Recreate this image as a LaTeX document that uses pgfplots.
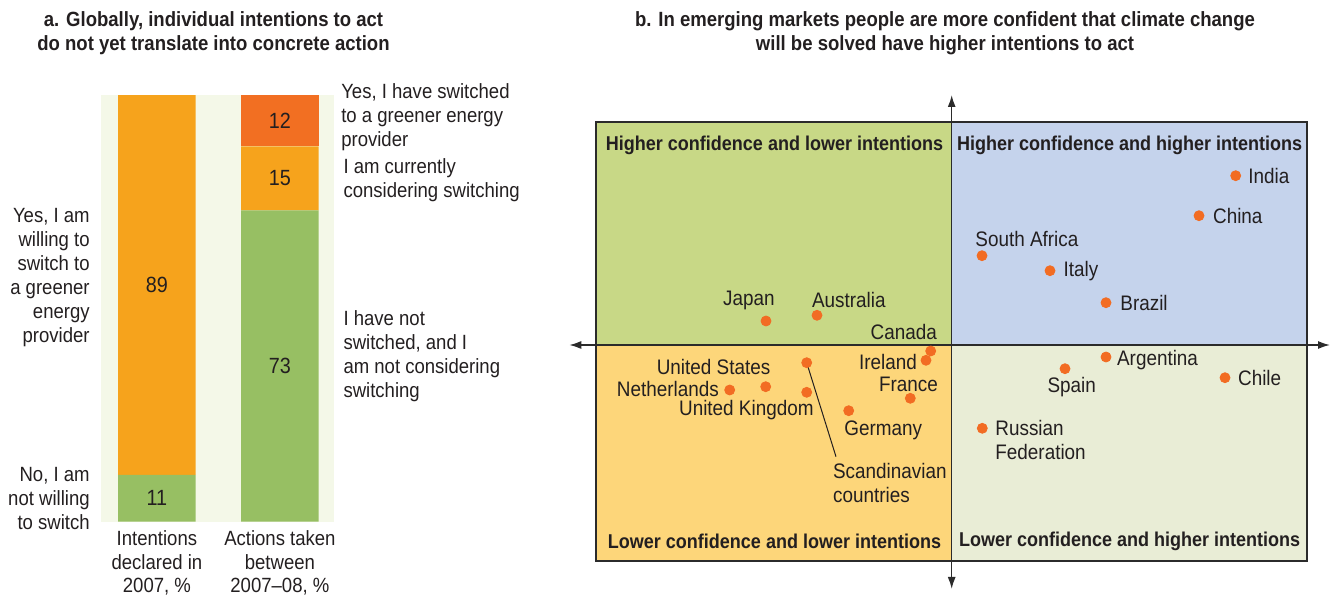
\documentclass[border=0pt]{standalone}
\usepackage{pgfplots}
\pgfplotsset{compat=1.18}
\usepackage{fontspec}
\setmainfont{Liberation Sans}[FakeStretch=0.9]
\usetikzlibrary{arrows.meta}

\definecolor{txt}{HTML}{231F20}
\definecolor{panelbg}{HTML}{F4F8E8}
\definecolor{barGreen}{HTML}{97BF63}
\definecolor{barOrange}{HTML}{F6A31C}
\definecolor{barDark}{HTML}{F26F22}
\definecolor{qTL}{HTML}{C8D886}
\definecolor{qTR}{HTML}{C5D3EC}
\definecolor{qBL}{HTML}{FDD67A}
\definecolor{qBR}{HTML}{E9EDD6}
\definecolor{dotc}{HTML}{F26C23}
\definecolor{frame}{HTML}{2B2B2B}

\newcommand{\lblfont}{\fontsize{10.3}{12}\selectfont}
\newcommand{\numfont}{\fontsize{11}{12}\selectfont}
\newcommand{\ctyfont}{\fontsize{10.5}{12}\selectfont}
\newcommand{\quadfont}{\fontsize{10}{12}\selectfont\bfseries}

\begin{document}
\begin{tikzpicture}[every node/.style={text=txt}, lab/.style={inner sep=0pt, text=txt}]
\path[use as bounding box] (0,0) rectangle (665pt,297.5pt);

% titles
\node[align=center, font=\fontsize{10.3}{12}\selectfont\bfseries] at (106.75pt,281pt)
  {a. Globally, individual intentions to act\\do not yet translate into concrete action};
\node[align=center, font=\fontsize{10.3}{12}\selectfont\bfseries] at (472.5pt,281pt)
  {b. In emerging markets people are more confident that climate change\\will be solved have higher intentions to act};

% ---- panel a: stacked bars
\begin{axis}[
  at={(50.5pt,36.65pt)}, anchor=south west,
  scale only axis, width=116.5pt, height=213.3pt,
  xmin=0.545, xmax=2.44, ymin=0, ymax=100,
  ybar stacked, bar width=38.75pt,
  axis line style={draw=none},
  axis background/.style={fill=panelbg},
  xtick={1,2}, ytick=\empty, major tick length=0pt,
  xticklabels={{Intentions\\declared in\\2007, \%},{Actions taken\\between\\2007--08, \%}},
  xticklabel style={align=center, font=\fontsize{10.3}{11.7}\selectfont, text=txt, yshift=-1pt},
  clip=false,
]
\addplot[fill=barGreen, draw=none] coordinates {(1,11) (2,73)};
\addplot[fill=barOrange, draw=none] coordinates {(1,89) (2,15)};
\addplot[fill=barDark, draw=none] coordinates {(1,0) (2,12)};

% centres of the segments, labelled after the axis is drawn
\coordinate (v89) at (axis cs:1,55.5);
\coordinate (v11) at (axis cs:1,5.5);
\coordinate (v73) at (axis cs:2,36.5);
\coordinate (v15) at (axis cs:2,80.5);
\coordinate (v12) at (axis cs:2,94);

\node[lab, font=\lblfont, anchor=east, align=right] at (axis cs:0.456,57.3)
  {Yes, I am\\willing to\\switch to\\a greener\\energy\\provider};
\node[lab, font=\lblfont, anchor=east, align=right] at (axis cs:0.456,5.5)
  {No, I am\\not willing\\to switch};
\node[lab, font=\lblfont, anchor=west, align=left] at (axis cs:2.496,94.8)
  {Yes, I have switched\\to a greener energy\\provider};
\node[lab, font=\lblfont, anchor=west, align=left] at (axis cs:2.514,80.1)
  {I am currently\\considering switching};
\node[lab, font=\lblfont, anchor=west, align=left] at (axis cs:2.514,38.9)
  {I have not\\switched, and I\\am not considering\\switching};
\end{axis}
\node[font=\numfont] at (v89) {89};
\node[font=\numfont] at (v11) {11};
\node[font=\numfont] at (v73) {73};
\node[font=\numfont] at (v15) {15};
\node[font=\numfont] at (v12) {12};

% ---- panel b: quadrant scatter
\begin{axis}[
  at={(298pt,17pt)}, anchor=south west,
  scale only axis, width=355.35pt, height=219.35pt,
  xmin=-355.7, xmax=355, ymin=-216, ymax=222.7,
  axis line style={line width=1pt, draw=frame},
  xtick=\empty, ytick=\empty,
  axis on top, clip=false,
]
\addplot[fill=qTL, draw=none] coordinates {(-355.7,0) (0,0) (0,222.7) (-355.7,222.7)} -- cycle;
\addplot[fill=qTR, draw=none] coordinates {(0,0) (355,0) (355,222.7) (0,222.7)} -- cycle;
\addplot[fill=qBL, draw=none] coordinates {(-355.7,-216) (0,-216) (0,0) (-355.7,0)} -- cycle;
\addplot[fill=qBR, draw=none] coordinates {(0,-216) (355,-216) (355,0) (0,0)} -- cycle;

\draw[line width=0.75pt, draw=frame, {Latex[length=6pt,width=4pt]}-{Latex[length=6pt,width=4pt]}]
  (axis cs:0,-244) -- (axis cs:0,250);
\draw[line width=0.75pt, draw=frame, {Latex[length=6pt,width=4pt]}-{Latex[length=6pt,width=4pt]}]
  (axis cs:-382.4,0) -- (axis cs:378.3,0);

\node[font=\quadfont] at (axis cs:-177.2,200) {Higher confidence and lower intentions};
\node[font=\quadfont] at (axis cs:178,200) {Higher confidence and higher intentions};
\node[font=\quadfont] at (axis cs:-177.2,-196.5) {Lower confidence and lower intentions};
\node[font=\quadfont] at (axis cs:178,-196.5) {Lower confidence and higher intentions};

% leader line for Scandinavian countries
\draw[line width=0.5pt, draw=txt] (axis cs:-145,-17.7) -- (axis cs:-115.7,-111.7);

% countries: x = confidence-side offset, y = intentions-side offset
\addplot[only marks, mark=*, mark size=2.5pt, color=dotc] table {
x y
284 169.3
247.3 129.3
30.3 89.3
98.3 74.3
154.3 42.3
-185.7 24
-134.7 29.7
-21 -6
-25.7 -15.3
-145 -17.7
-186 -41.7
-222 -45
-145 -47.3
-103 -65.7
-41.4 -53.3
154.3 -12
113.3 -23.7
273.3 -32.7
30.6 -83.3
};

\begin{scope}[every node/.style={lab, font=\ctyfont}]
\node[anchor=west] at (axis cs:296.3,169.3) {India};
\node[anchor=west] at (axis cs:261,129.3) {China};
\node[anchor=west] at (axis cs:23.3,105.7) {South Africa};
\node[anchor=west] at (axis cs:111.6,74.3) {Italy};
\node[anchor=west] at (axis cs:168.3,42.3) {Brazil};
\node at (axis cs:-202.9,45) {Japan};
\node[anchor=west] at (axis cs:-140,45) {Australia};
\node[anchor=east] at (axis cs:-14.4,12.7) {Canada};
\node[anchor=east] at (axis cs:-34.4,-17.3) {Ireland};
\node[anchor=east] at (axis cs:-13.4,-39) {France};
\node[anchor=east] at (axis cs:-181,-21.7) {United States};
\node[anchor=east] at (axis cs:-232.4,-43.7) {Netherlands};
\node[anchor=east] at (axis cs:-137.7,-65) {United Kingdom};
\node[anchor=west] at (axis cs:-107.7,-85.7) {Germany};
\node[anchor=west, align=left] at (axis cs:-119,-137.8) {Scandinavian\\countries};
\node[anchor=west] at (axis cs:165,-15) {Argentina};
\node at (axis cs:120,-41.7) {Spain};
\node[anchor=west] at (axis cs:286,-32.7) {Chile};
\node[anchor=west, align=left] at (axis cs:43.3,-95) {Russian\\Federation};
\end{scope}
\end{axis}
\end{tikzpicture}
\end{document}
